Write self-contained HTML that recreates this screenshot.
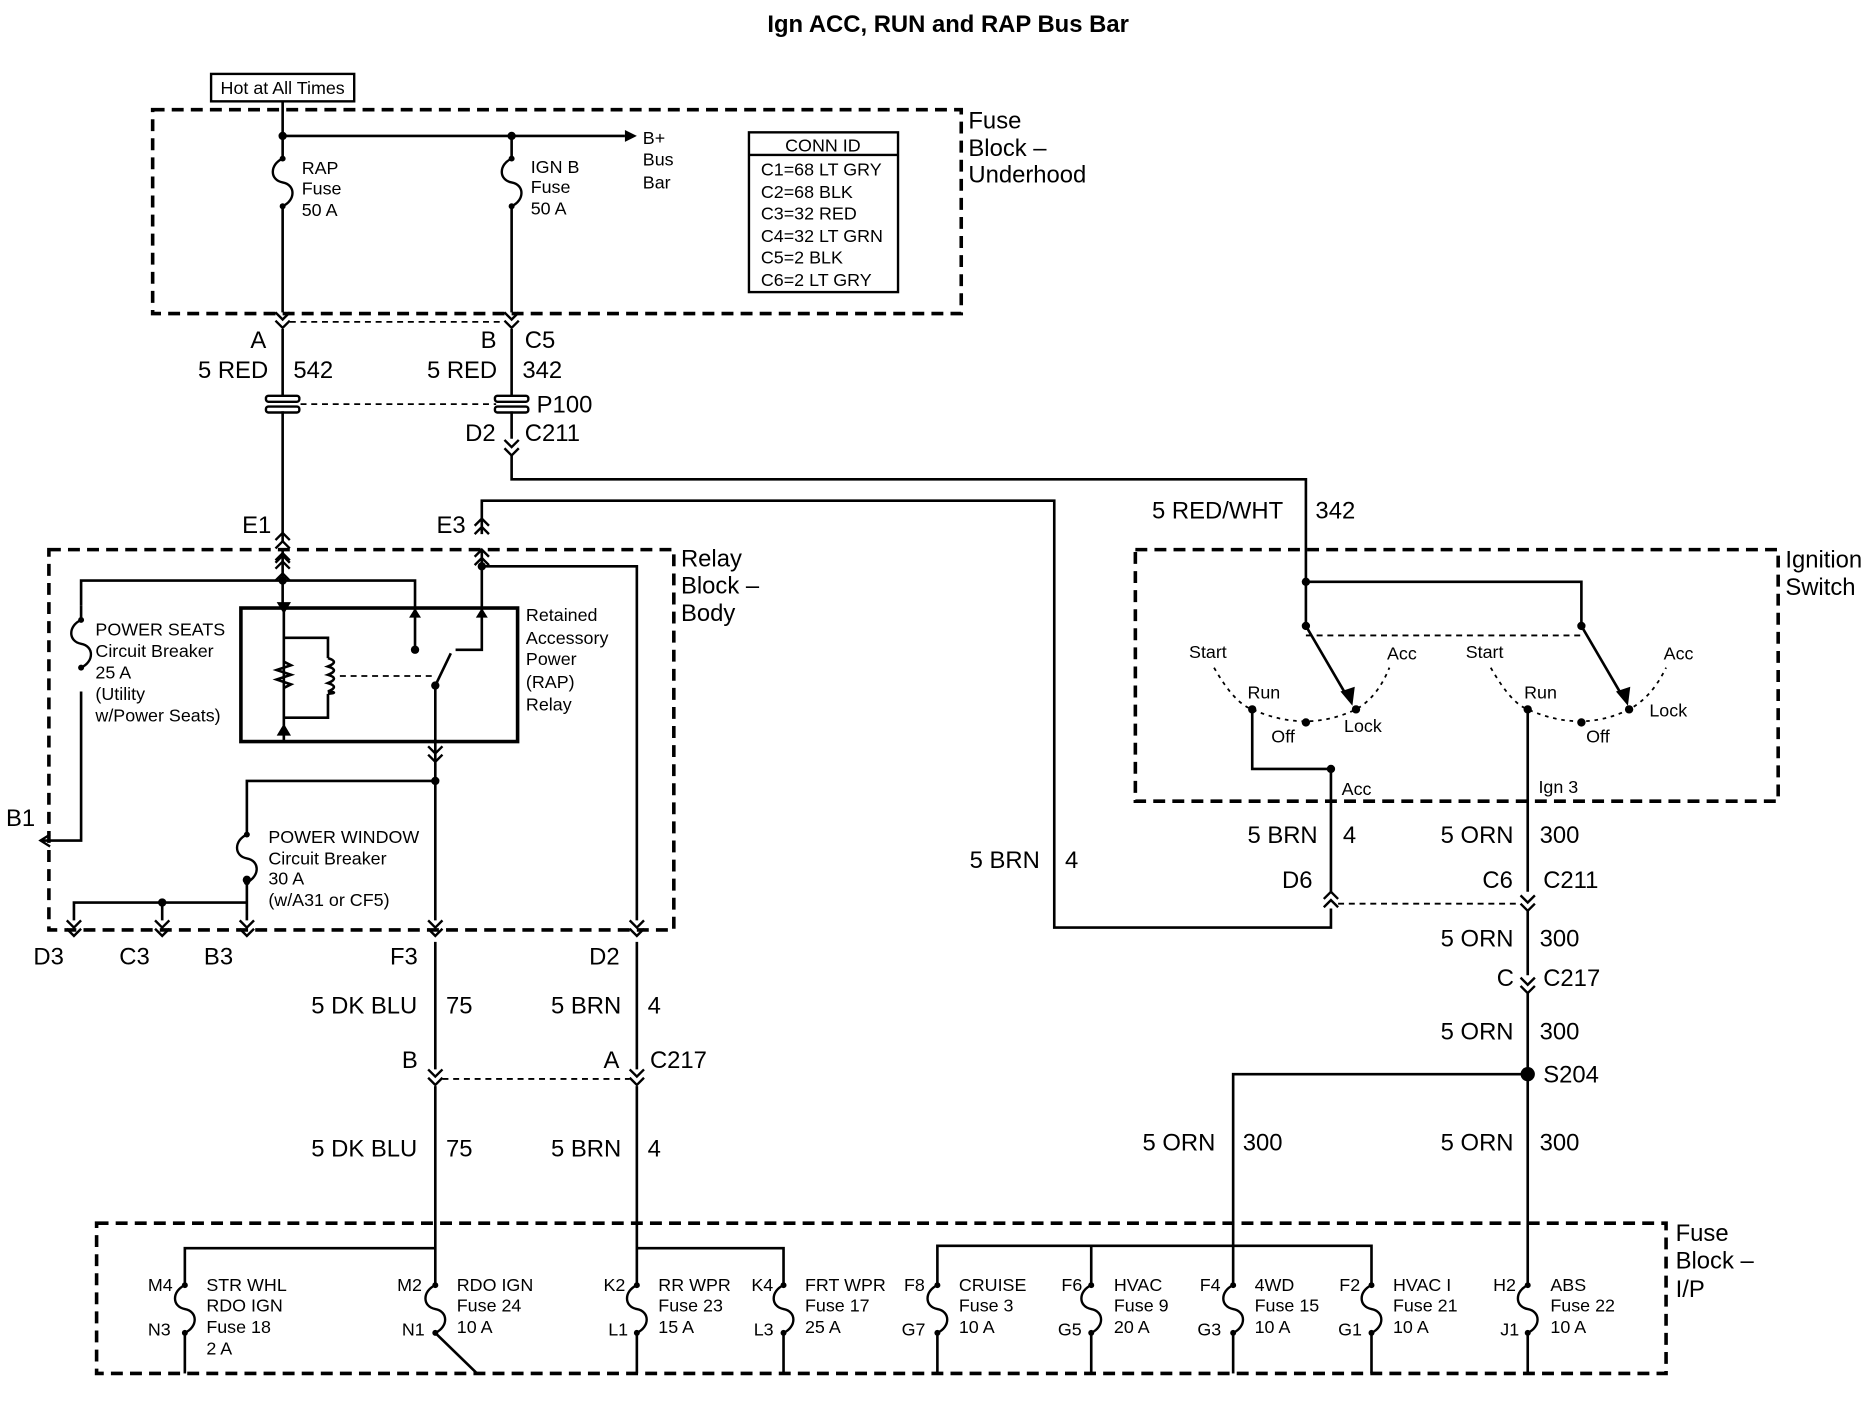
<!DOCTYPE html>
<html><head><meta charset="utf-8"><style>
html,body{margin:0;padding:0;background:#fff;}
svg{display:block;}
text{font-family:"Liberation Sans",sans-serif;fill:#000;}
.b{font-size:20px;}
.s{font-size:15px;}
</style></head><body>
<svg width="1870" height="1408" viewBox="0 0 1568 1181" preserveAspectRatio="none" xmlns="http://www.w3.org/2000/svg">
<defs>
<g id="fuse"><path d="M0,0 C-11,5 -11,18 0,20 C11,22 11,35 0,40" fill="none" stroke="#000" stroke-width="2"/><circle cx="0" cy="0" r="2.5"/><circle cx="0" cy="40" r="2.5"/></g>
<g id="cdn"><path d="M-6,-6 L0,0 L6,-6 M-6,1 L0,7 L6,1" fill="none" stroke="#000" stroke-width="2"/></g>
<g id="cup"><path d="M-6,6 L0,0 L6,6 M-6,-1 L0,-7 L6,-1" fill="none" stroke="#000" stroke-width="2"/></g>
</defs>
<rect width="1568" height="1181" fill="#fff"/>
<text x="795" y="27" class="b" font-weight="bold" text-anchor="middle">Ign ACC, RUN and RAP Bus Bar</text>

<g fill="none" stroke="#000" stroke-width="3" stroke-dasharray="10,6">
<rect x="128" y="92" width="678" height="171"/>
<rect x="41" y="461" width="524" height="319"/>
<rect x="952" y="461" width="539" height="211"/>
<rect x="81" y="1026" width="1316" height="126"/>
</g>
<g fill="none" stroke="#000" stroke-width="1.5" stroke-dasharray="5,4">
<line x1="243" y1="270" x2="423" y2="270"/>
<line x1="252" y1="339" x2="416" y2="339"/>
<line x1="285" y1="567" x2="362" y2="567"/>
<line x1="1095" y1="533" x2="1326" y2="533"/>
<line x1="1122" y1="758" x2="1275" y2="758"/>
<line x1="371" y1="905" x2="528" y2="905"/>
</g>
<g fill="none" stroke="#000" stroke-width="1.5" stroke-dasharray="3,4">
<path d="M1018,560 Q1035,590 1050,595 Q1095,615 1137,595 Q1155,585 1165,560"/>
<path d="M1250,560 Q1267,590 1281,595 Q1326,615 1366,595 Q1385,585 1397,560"/>
</g>

<rect x="177" y="62" width="120" height="23" fill="none" stroke="#000" stroke-width="2"/>
<text x="237" y="79" class="s" text-anchor="middle">Hot at All Times</text>

<g fill="none" stroke="#000" stroke-width="2.2">
<line x1="237" y1="85" x2="237" y2="114"/>
<line x1="237" y1="114" x2="524" y2="114"/>
<line x1="237" y1="114" x2="237" y2="133"/><line x1="237" y1="173" x2="237" y2="262"/>
<line x1="429" y1="114" x2="429" y2="133"/><line x1="429" y1="173" x2="429" y2="262"/>
<line x1="237" y1="276" x2="237" y2="333"/><line x1="429" y1="276" x2="429" y2="333"/>
<line x1="237" y1="345" x2="237" y2="455"/>
<line x1="429" y1="345" x2="429" y2="368"/>
<polyline points="429,382 429,402 1095,402 1095,525"/>
<polyline points="1095,488 1326,488 1326,525"/>
<polyline points="404,448 404,420 884,420 884,778 1116,778 1116,762"/>
<!-- relay block -->
<line x1="237" y1="462" x2="237" y2="510"/>
<line x1="404" y1="462" x2="404" y2="510"/>
<polyline points="68,508 68,487 348,487 348,510"/>
<polyline points="404,475 534,475 534,772"/>
<line x1="68" y1="508" x2="68" y2="520"/><polyline points="68,580 68,705 34,705"/>
<rect x="202" y="510" width="232" height="112" stroke-width="3"/>
<line x1="238" y1="510" x2="238" y2="622"/>
<polyline points="238,535 275,535 275,552"/><polyline points="275,582 275,602 238,602"/>
<path d="M275,552 q10,3 0,7 q10,3 0,7 q10,3 0,7 q10,3 0,7 q10,1 0,2" />
<path d="M238,555 l6,3 l-12,4 l12,4 l-12,4 l12,4 l-6,3"/>
<line x1="348" y1="510" x2="348" y2="545"/>
<polyline points="404,510 404,545 382,545"/>
<line x1="365" y1="575" x2="378" y2="548"/>
<line x1="365" y1="575" x2="365" y2="622"/>
<line x1="365" y1="622" x2="365" y2="772"/>
<polyline points="365,655 207,655 207,700"/>
<line x1="207" y1="740" x2="207" y2="772"/>
<polyline points="62,772 62,757 207,757"/>
<line x1="136" y1="757" x2="136" y2="772"/>
<!-- below relay -->
<line x1="365" y1="790" x2="365" y2="897"/><line x1="534" y1="790" x2="534" y2="897"/>
<line x1="365" y1="911" x2="365" y2="1078"/><line x1="534" y1="911" x2="534" y2="1078"/>
<!-- ign switch -->
<line x1="1095" y1="525" x2="1130" y2="585"/><line x1="1326" y1="525" x2="1361" y2="585"/>
<polyline points="1050,595 1050,645 1116,645 1116,748"/>
<line x1="1281" y1="595" x2="1281" y2="748"/>
<line x1="1281" y1="764" x2="1281" y2="818"/>
<line x1="1281" y1="832" x2="1281" y2="1078"/>
<polyline points="1281,901 1034,901 1034,1078"/>
<!-- fuse block IP -->
<polyline points="155,1078 155,1047 365,1047"/>
<polyline points="534,1047 657,1047 657,1078"/>
<polyline points="786,1078 786,1045 1150,1045 1150,1078"/>
<line x1="915" y1="1045" x2="915" y2="1078"/>
<g>
<line x1="155" y1="1118" x2="155" y2="1152"/><line x1="365" y1="1118" x2="400" y2="1152"/>
<line x1="534" y1="1118" x2="534" y2="1152"/><line x1="657" y1="1118" x2="657" y2="1152"/>
<line x1="786" y1="1118" x2="786" y2="1152"/><line x1="915" y1="1118" x2="915" y2="1152"/>
<line x1="1034" y1="1118" x2="1034" y2="1152"/><line x1="1150" y1="1118" x2="1150" y2="1152"/>
<line x1="1281" y1="1118" x2="1281" y2="1152"/>
</g>
</g>
<!-- arrowheads -->
<path d="M524,109 L534,114 L524,119 Z"/>
<path d="M1124,580 L1134,592 L1136,576 Z"/><path d="M1355,580 L1365,592 L1367,576 Z"/>
<path d="M232,505 L238,515 L244,505Z M232,617 L238,607 L244,617Z"/>
<path d="M343,518 L348,510 L353,518Z M399,518 L404,510 L409,518Z"/>
<path d="M42,700 L34,705 L42,710" fill="none" stroke="#000" stroke-width="2"/>
<path d="M243,487 L237,481 L231,487 M243,472 L237,466 L231,472" fill="none" stroke="#000" stroke-width="2"/>

<!-- fuses -->
<use href="#fuse" x="237" y="133"/><use href="#fuse" x="429" y="133"/>
<use href="#fuse" x="68" y="520" transform="translate(0,0)"/>
<use href="#fuse" x="207" y="700"/>
<use href="#fuse" x="155" y="1078"/><use href="#fuse" x="365" y="1078"/>
<use href="#fuse" x="534" y="1078"/><use href="#fuse" x="657" y="1078"/>
<use href="#fuse" x="786" y="1078"/><use href="#fuse" x="915" y="1078"/>
<use href="#fuse" x="1034" y="1078"/><use href="#fuse" x="1150" y="1078"/>
<use href="#fuse" x="1281" y="1078"/>

<!-- connectors -->
<use href="#cdn" x="237" y="268"/><use href="#cdn" x="429" y="268"/>
<use href="#cdn" x="429" y="375"/>
<use href="#cup" x="237" y="454"/><use href="#cup" x="404" y="442"/>
<use href="#cup" x="237" y="471"/><use href="#cup" x="404" y="468"/>
<use href="#cdn" x="365" y="632"/>
<use href="#cdn" x="365" y="778"/><use href="#cdn" x="534" y="778"/>
<use href="#cdn" x="62" y="778"/><use href="#cdn" x="136" y="778"/><use href="#cdn" x="207" y="778"/>
<use href="#cdn" x="365" y="903"/><use href="#cdn" x="534" y="903"/>
<use href="#cup" x="1116" y="755"/><use href="#cdn" x="1281" y="757"/>
<use href="#cdn" x="1281" y="826"/>
<g fill="none" stroke="#000" stroke-width="2">
<rect x="223" y="332" width="28" height="5" rx="2"/><rect x="223" y="341" width="28" height="5" rx="2"/>
<rect x="415" y="332" width="28" height="5" rx="2"/><rect x="415" y="341" width="28" height="5" rx="2"/>
</g>

<!-- dots -->
<g>
<circle cx="237" cy="114" r="3.5"/><circle cx="429" cy="114" r="3.5"/>
<circle cx="237" cy="487" r="3.5"/><circle cx="404" cy="475" r="3.5"/>
<circle cx="348" cy="545" r="3.5"/><circle cx="365" cy="575" r="3.5"/>
<circle cx="365" cy="655" r="3.5"/><circle cx="207" cy="738" r="3.5"/><circle cx="136" cy="757" r="3.5"/>
<circle cx="1095" cy="488" r="3.5"/><circle cx="1095" cy="525" r="3.5"/><circle cx="1326" cy="525" r="3.5"/>
<circle cx="1050" cy="595" r="3.5"/><circle cx="1095" cy="606" r="3.5"/><circle cx="1137" cy="595" r="3.5"/>
<circle cx="1281" cy="595" r="3.5"/><circle cx="1326" cy="606" r="3.5"/><circle cx="1366" cy="595" r="3.5"/>
<circle cx="1116" cy="645" r="3.5"/><circle cx="1281" cy="901" r="6"/>
</g>
<circle cx="380" cy="545" r="14" fill="none" stroke="#000" stroke-width="1.2" stroke-dasharray="3,3" opacity="0"/>

<!-- CONN ID -->
<rect x="628" y="111" width="125" height="134" fill="none" stroke="#000" stroke-width="2"/>
<line x1="628" y1="130" x2="753" y2="130" stroke="#000" stroke-width="2"/>
<g class="s">
<text x="690" y="127" text-anchor="middle">CONN ID</text>
<text x="638" y="147">C1=68 LT GRY</text>
<text x="638" y="166">C2=68 BLK</text>
<text x="638" y="184">C3=32 RED</text>
<text x="638" y="203">C4=32 LT GRN</text>
<text x="638" y="221">C5=2 BLK</text>
<text x="638" y="240">C6=2 LT GRY</text>
<text x="253" y="146">RAP</text><text x="253" y="163">Fuse</text><text x="253" y="181">50 A</text>
<text x="445" y="145">IGN B</text><text x="445" y="162">Fuse</text><text x="445" y="180">50 A</text>
<text x="539" y="121">B+</text><text x="539" y="139">Bus</text><text x="539" y="158">Bar</text>
<text x="80" y="533">POWER SEATS</text><text x="80" y="551">Circuit Breaker</text><text x="80" y="569">25 A</text>
<text x="80" y="587">(Utility</text><text x="80" y="605">w/Power Seats)</text>
<text x="441" y="521">Retained</text><text x="441" y="540">Accessory</text><text x="441" y="558">Power</text>
<text x="441" y="577">(RAP)</text><text x="441" y="596">Relay</text>
<text x="225" y="707">POWER WINDOW</text><text x="225" y="725">Circuit Breaker</text><text x="225" y="742">30 A</text><text x="225" y="760">(w/A31 or CF5)</text>
<text x="997" y="552">Start</text><text x="1046" y="586">Run</text><text x="1163" y="553">Acc</text>
<text x="1066" y="623">Off</text><text x="1127" y="614">Lock</text>
<text x="1229" y="552">Start</text><text x="1278" y="586">Run</text><text x="1395" y="553">Acc</text>
<text x="1330" y="623">Off</text><text x="1383" y="601">Lock</text>
<text x="1125" y="667">Acc</text><text x="1290" y="665">Ign 3</text>
<text x="124" y="1083">M4</text><text x="124" y="1120">N3</text>
<text x="173" y="1083">STR WHL</text><text x="173" y="1100">RDO IGN</text><text x="173" y="1118">Fuse 18</text><text x="173" y="1136">2 A</text>
<text x="333" y="1083">M2</text><text x="337" y="1120">N1</text>
<text x="383" y="1083">RDO IGN</text><text x="383" y="1100">Fuse 24</text><text x="383" y="1118">10 A</text>
<text x="506" y="1083">K2</text><text x="510" y="1120">L1</text>
<text x="552" y="1083">RR WPR</text><text x="552" y="1100">Fuse 23</text><text x="552" y="1118">15 A</text>
<text x="630" y="1083">K4</text><text x="632" y="1120">L3</text>
<text x="675" y="1083">FRT WPR</text><text x="675" y="1100">Fuse 17</text><text x="675" y="1118">25 A</text>
<text x="758" y="1083">F8</text><text x="756" y="1120">G7</text>
<text x="804" y="1083">CRUISE</text><text x="804" y="1100">Fuse 3</text><text x="804" y="1118">10 A</text>
<text x="890" y="1083">F6</text><text x="887" y="1120">G5</text>
<text x="934" y="1083">HVAC</text><text x="934" y="1100">Fuse 9</text><text x="934" y="1118">20 A</text>
<text x="1006" y="1083">F4</text><text x="1004" y="1120">G3</text>
<text x="1052" y="1083">4WD</text><text x="1052" y="1100">Fuse 15</text><text x="1052" y="1118">10 A</text>
<text x="1123" y="1083">F2</text><text x="1122" y="1120">G1</text>
<text x="1168" y="1083">HVAC I</text><text x="1168" y="1100">Fuse 21</text><text x="1168" y="1118">10 A</text>
<text x="1252" y="1083">H2</text><text x="1258" y="1120">J1</text>
<text x="1300" y="1083">ABS</text><text x="1300" y="1100">Fuse 22</text><text x="1300" y="1118">10 A</text>
</g>
<g class="b">
<text x="812" y="108">Fuse</text><text x="812" y="131">Block –</text><text x="812" y="153">Underhood</text>
<text x="571" y="475">Relay</text><text x="571" y="498">Block –</text><text x="571" y="521">Body</text>
<text x="1497" y="476">Ignition</text><text x="1497" y="499">Switch</text>
<text x="1405" y="1041">Fuse</text><text x="1405" y="1064">Block –</text><text x="1405" y="1088">I/P</text>
<text x="210" y="292">A</text><text x="403" y="292">B</text><text x="440" y="292">C5</text>
<text x="166" y="317">5 RED</text><text x="246" y="317">542</text>
<text x="358" y="317">5 RED</text><text x="438" y="317">342</text>
<text x="450" y="346">P100</text>
<text x="390" y="370">D2</text><text x="440" y="370">C211</text>
<text x="966" y="435">5 RED/WHT</text><text x="1103" y="435">342</text>
<text x="203" y="447">E1</text><text x="366" y="447">E3</text>
<text x="5" y="693">B1</text>
<text x="813" y="728">5 BRN</text><text x="893" y="728">4</text>
<text x="1046" y="707">5 BRN</text><text x="1126" y="707">4</text>
<text x="1208" y="707">5 ORN</text><text x="1291" y="707">300</text>
<text x="1075" y="745">D6</text><text x="1243" y="745">C6</text><text x="1294" y="745">C211</text>
<text x="28" y="809">D3</text><text x="100" y="809">C3</text><text x="171" y="809">B3</text>
<text x="327" y="809">F3</text><text x="494" y="809">D2</text>
<text x="1208" y="794">5 ORN</text><text x="1291" y="794">300</text>
<text x="1255" y="827">C</text><text x="1294" y="827">C217</text>
<text x="1208" y="872">5 ORN</text><text x="1291" y="872">300</text>
<text x="1294" y="908">S204</text>
<text x="261" y="850">5 DK BLU</text><text x="374" y="850">75</text>
<text x="462" y="850">5 BRN</text><text x="543" y="850">4</text>
<text x="337" y="896">B</text><text x="506" y="896">A</text><text x="545" y="896">C217</text>
<text x="261" y="970">5 DK BLU</text><text x="374" y="970">75</text>
<text x="462" y="970">5 BRN</text><text x="543" y="970">4</text>
<text x="958" y="965">5 ORN</text><text x="1042" y="965">300</text>
<text x="1208" y="965">5 ORN</text><text x="1291" y="965">300</text>
</g>
</svg>
</body></html>
